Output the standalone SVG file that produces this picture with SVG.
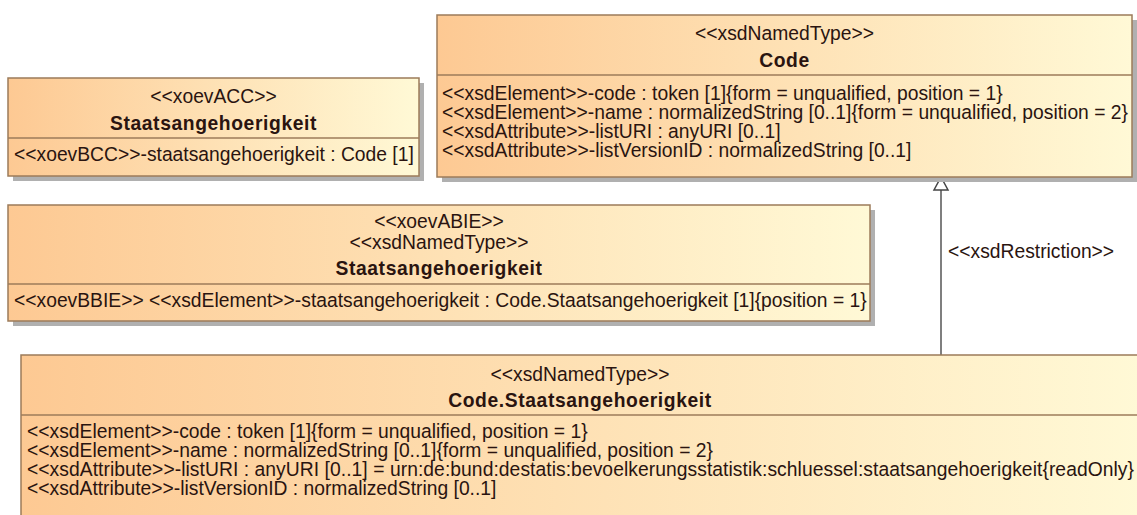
<svg xmlns="http://www.w3.org/2000/svg" width="1137" height="515" viewBox="0 0 1137 515">
  <defs>
    <linearGradient id="fillGrad" x1="0" y1="0" x2="1" y2="0">
      <stop offset="0" stop-color="#FDC993"/>
      <stop offset="1" stop-color="#FFF9D6"/>
    </linearGradient>
  </defs>
  <style>
    .shadow { fill: #B0B0B0; }
    .box { fill: url(#fillGrad); stroke: #9C7B5A; stroke-width: 1.5; }
    .div { stroke: #9C7B5A; stroke-width: 1.5; }
    text { font-family: "Liberation Sans", Arial, sans-serif; font-size: 19.3px; fill: #2A1410; }
    .c { text-anchor: middle; }
    .b { font-weight: bold; letter-spacing: 0.6px; }
    .edge { stroke: #555555; stroke-width: 1.5; fill: none; }
    .tri { fill: #FFFFFF; stroke: #444444; stroke-width: 1.5; }
  </style>

  <g id="connectors">
    <line class="edge" x1="941" y1="190" x2="941" y2="355"/>
    <polygon class="tri" points="941,177 934,190 948,190"/>
    <text x="948" y="258">&lt;&lt;xsdRestriction&gt;&gt;</text>
  </g>

  <g id="node-acc">
    <rect class="shadow" x="13" y="83" width="411" height="98"/>
    <rect class="box" x="8" y="78" width="411" height="98"/>
    <line class="div" x1="8" y1="138" x2="419" y2="138"/>
    <text class="c" x="213.5" y="103">&lt;&lt;xoevACC&gt;&gt;</text>
    <text class="c b" x="213.5" y="130">Staatsangehoerigkeit</text>
    <text x="14" y="161">&lt;&lt;xoevBCC&gt;&gt;-staatsangehoerigkeit : Code [1]</text>
  </g>

  <g id="node-code">
    <rect class="shadow" x="442" y="20" width="695" height="162"/>
    <rect class="box" x="437" y="15" width="695" height="162"/>
    <line class="div" x1="437" y1="75" x2="1132" y2="75"/>
    <text class="c" x="784.5" y="40">&lt;&lt;xsdNamedType&gt;&gt;</text>
    <text class="c b" x="784.5" y="67">Code</text>
    <text x="442" y="100">&lt;&lt;xsdElement&gt;&gt;-code : token [1]{form = unqualified, position = 1}</text>
    <text x="442" y="119">&lt;&lt;xsdElement&gt;&gt;-name : normalizedString [0..1]{form = unqualified, position = 2}</text>
    <text x="442" y="138">&lt;&lt;xsdAttribute&gt;&gt;-listURI : anyURI [0..1]</text>
    <text x="442" y="157">&lt;&lt;xsdAttribute&gt;&gt;-listVersionID : normalizedString [0..1]</text>
  </g>

  <g id="node-abie">
    <rect class="shadow" x="13" y="210" width="862" height="116"/>
    <rect class="box" x="8" y="205" width="862" height="116"/>
    <line class="div" x1="8" y1="284" x2="870" y2="284"/>
    <text class="c" x="439" y="228">&lt;&lt;xoevABIE&gt;&gt;</text>
    <text class="c" x="439" y="249">&lt;&lt;xsdNamedType&gt;&gt;</text>
    <text class="c b" x="439" y="275">Staatsangehoerigkeit</text>
    <text x="14" y="307">&lt;&lt;xoevBBIE&gt;&gt; &lt;&lt;xsdElement&gt;&gt;-staatsangehoerigkeit : Code.Staatsangehoerigkeit [1]{position = 1}</text>
  </g>

  <g id="node-code-staatsangehoerigkeit">
    <rect class="box" x="21" y="355" width="1120" height="170"/>
    <line class="div" x1="21" y1="415" x2="1141" y2="415"/>
    <text class="c" x="580" y="381">&lt;&lt;xsdNamedType&gt;&gt;</text>
    <text class="c b" x="580" y="407">Code.Staatsangehoerigkeit</text>
    <text x="27" y="438">&lt;&lt;xsdElement&gt;&gt;-code : token [1]{form = unqualified, position = 1}</text>
    <text x="27" y="457">&lt;&lt;xsdElement&gt;&gt;-name : normalizedString [0..1]{form = unqualified, position = 2}</text>
    <text x="27" y="476" textLength="1107" lengthAdjust="spacing">&lt;&lt;xsdAttribute&gt;&gt;-listURI : anyURI [0..1] = urn:de:bund:destatis:bevoelkerungsstatistik:schluessel:staatsangehoerigkeit{readOnly}</text>
    <text x="27" y="495">&lt;&lt;xsdAttribute&gt;&gt;-listVersionID : normalizedString [0..1]</text>
  </g>
</svg>
